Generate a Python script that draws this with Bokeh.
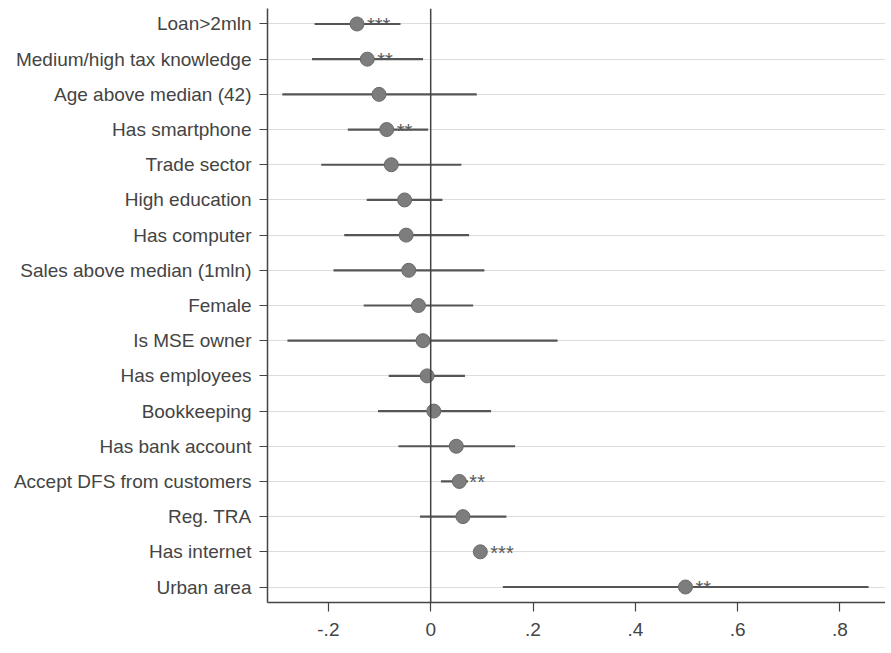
from bokeh.plotting import figure
from bokeh.models import ColumnDataSource, FixedTicker, Span, FactorRange, Range1d
from bokeh.core.properties import value
from bokeh.embed import file_html
from bokeh.resources import INLINE

labels = ["Loan>2mln", "Medium/high tax knowledge", "Age above median (42)", "Has smartphone",
          "Trade sector", "High education", "Has computer", "Sales above median (1mln)",
          "Female", "Is MSE owner", "Has employees", "Bookkeeping", "Has bank account",
          "Accept DFS from customers", "Reg. TRA", "Has internet", "Urban area"]
coef = [-0.144, -0.124, -0.101, -0.086, -0.077, -0.051, -0.048, -0.043, -0.024, -0.015,
        -0.007, 0.006, 0.050, 0.056, 0.063, 0.097, 0.498]
lower = [-0.227, -0.232, -0.290, -0.162, -0.214, -0.125, -0.169, -0.190, -0.131, -0.280,
         -0.082, -0.103, -0.063, 0.020, -0.021, 0.086, 0.141]
upper = [-0.059, -0.015, 0.090, -0.005, 0.060, 0.023, 0.075, 0.105, 0.083, 0.248,
         0.067, 0.118, 0.165, 0.073, 0.148, 0.108, 0.856]
stars = ["***", "**", "", "**", "", "", "", "", "", "", "", "", "", "**", "", "***", "**"]
x_ticks = [-0.2, 0, 0.2, 0.4, 0.6, 0.8]
x_tick_labels = ["-.2", "0", ".2", ".4", ".6", ".8"]

src = ColumnDataSource(dict(label=labels, coef=coef, lower=lower, upper=upper, stars=stars))

FONT = "Liberation Sans"
TXT = "#444444"
AX = "#444444"

p = figure(width=885, height=645, output_backend="svg", toolbar_location=None,
           y_range=FactorRange(factors=list(reversed(labels)), range_padding=-0.06,
                               range_padding_units="absolute"),
           x_range=Range1d(-0.319, 0.889))
p.min_border_left = 267
p.min_border_right = 0
p.min_border_top = 8
p.min_border_bottom = 43
p.outline_line_color = None
p.background_fill_color = "white"

p.xgrid.grid_line_color = None
p.ygrid.grid_line_color = "#dcdcdc"
p.ygrid.grid_line_width = 1

p.add_layout(Span(location=0, dimension="height", line_color=AX, line_width=1.5))

p.segment(x0="lower", x1="upper", y0="label", y1="label", source=src,
          line_color="#555555", line_width=2.2)
p.scatter(x="coef", y="label", source=src, size=14, fill_color="#7d7d7d",
          line_color="#6a6a6a", line_width=1)
p.text(x="coef", y="label", text="stars", source=src, x_offset=10, y_offset=1,
       text_font=value(FONT), text_font_size="20px", text_color="#5a5a5a",
       text_baseline="middle", text_align="left")

p.xaxis.ticker = FixedTicker(ticks=x_ticks)
p.xaxis.major_label_overrides = {t: l for t, l in zip(x_ticks, x_tick_labels)}
p.xaxis.minor_tick_line_color = None
p.xaxis.major_tick_out = 9
p.xaxis.major_tick_in = 0
p.xaxis.major_label_standoff = 11

for ax in (p.xaxis, p.yaxis):
    ax.axis_line_color = AX
    ax.axis_line_width = 1.5
    ax.major_tick_line_color = AX
    ax.major_tick_line_width = 1.2
    ax.major_label_text_font = FONT
    ax.major_label_text_font_size = "19px"
    ax.major_label_text_color = TXT

p.yaxis.major_tick_out = 8
p.yaxis.major_tick_in = 0
p.yaxis.major_label_standoff = 8

open("out.html", "w").write(file_html(p, INLINE))
